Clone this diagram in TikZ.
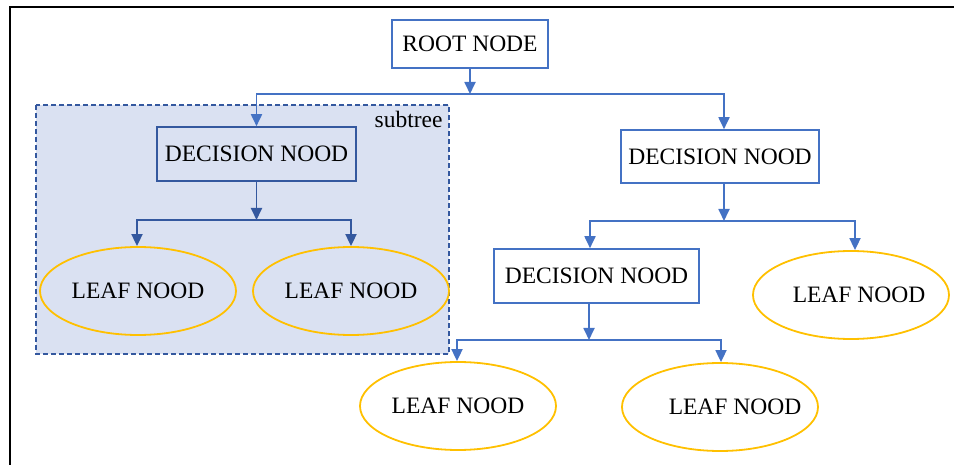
\documentclass[tikz,border=0pt]{standalone}
\usepackage{fontspec}
\setmainfont{Liberation Serif}
\usetikzlibrary{arrows.meta,shapes.geometric}

\definecolor{lineblue}{HTML}{4472C4}
\definecolor{darkblue}{HTML}{34589F}
\definecolor{leafgold}{HTML}{FFC000}
\definecolor{subfill}{HTML}{DAE1F2}

\tikzset{
  decision/.style = {draw=lineblue, line width=1.6pt, rectangle, inner sep=0pt,
                     font=\fontsize{23.5}{26}\selectfont},
  leaf/.style     = {draw=leafgold, line width=1.8pt, ellipse, inner sep=0pt,
                     minimum width=196pt, minimum height=88pt,
                     font=\fontsize{23.5}{26}\selectfont},
  link/.style     = {lineblue, line width=1.8pt,
                     -{Triangle[length=12pt,width=11pt]}},
}

\begin{document}
\begin{tikzpicture}[x=1pt, y=-1pt]
			\useasboundingbox (0,0) rectangle (954,465);
			% frame
			\draw[black, line width=2pt] (10,465) -- (10,7) -- (954,7);

			% subtree region
			\draw[darkblue, fill=subfill, line width=1.5pt,
			      dash pattern=on 5pt off 3pt] (36,105) rectangle (449,354);
			\node[anchor=east, font=\fontsize{23.5}{26}\selectfont] (subtree) at (446,119) {subtree};

			% nodes
			\node[decision, minimum width=156pt, minimum height=48pt] (root) at (470,44) {ROOT NODE};
			\node[decision, draw=darkblue, minimum width=199pt, minimum height=54pt] (decL) at (256.5,154) {DECISION NOOD};
			\node[decision, minimum width=198pt, minimum height=53pt] (decR) at (720,156.5) {DECISION NOOD};
			\node[decision, minimum width=205pt, minimum height=54pt] (decM) at (596.5,276) {DECISION NOOD};

			\node[leaf] (leafA) at (138,291) {LEAF NOOD};
			\node[leaf] (leafB) at (351,291) {LEAF NOOD};
			\node[leaf] (leafC) at (851,295) {\makebox[0pt]{\hspace*{16pt}LEAF NOOD}};
			\node[leaf] (leafD) at (458,406) {LEAF NOOD};
			\node[leaf] (leafE) at (720,407) {\makebox[0pt]{\hspace*{30pt}LEAF NOOD}};

			% junctions
			\coordinate (j1) at (470,94);
			\coordinate (j2) at (256.5,220);
			\coordinate (j3) at (724,221);
			\coordinate (j4) at (589,340);

			% root level
			\draw[link] (root) -- (j1);
			\draw[link] (j1) -| (decL.north);
			\draw[link] (j1) -| ([xshift=4pt]decR.north);

			% subtree level
			\draw[link, darkblue] (decL) -- (j2);
			\draw[link, darkblue] (j2) -| ([xshift=-1pt]leafA.north);
			\draw[link, darkblue] (j2) -| (leafB.north);

			% right level
			\draw[link] ([xshift=4pt]decR.south) -- (j3);
			\draw[link] (j3) -| ([xshift=-6.5pt]decM.north);
			\draw[link] (j3) -| ([xshift=4pt]leafC.north);

			% bottom level
			\draw[link] ([xshift=-7.5pt]decM.south) -- (j4);
			\draw[link] (j4) -| ([xshift=-1pt]leafD.north);
			\draw[link] (j4) -| ([xshift=1pt]leafE.north);

		\end{tikzpicture}
\end{document}
